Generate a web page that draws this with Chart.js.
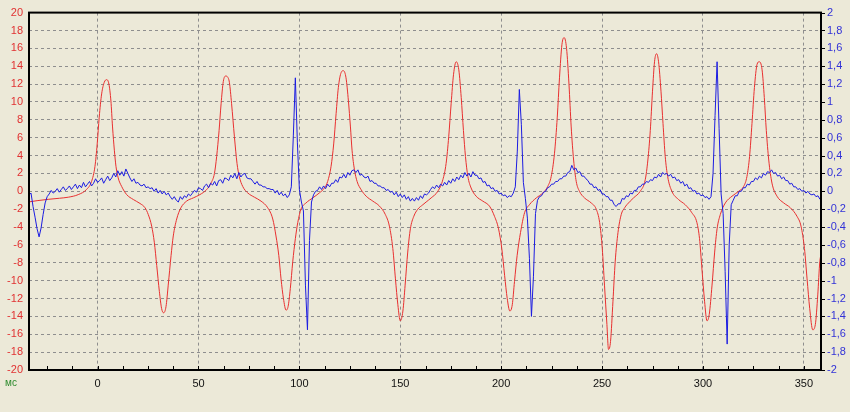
<!DOCTYPE html>
<html><head><meta charset="utf-8">
<script src="https://cdn.jsdelivr.net/npm/chart.js@4"></script>
<style>html,body{margin:0;padding:0;background:#ECE9D8;}canvas{display:block}</style>
</head><body>
<canvas id="c" width="850" height="412"></canvas>
<script>
const xUnit = 'мс';
const xMin = -34, xMax = 358.5;
const xTickStep = 12.5, xLabelStep = 50;
const leftMin = -20, leftMax = 20, leftStep = 2;
const rightMin = -2, rightMax = 2, rightStep = 0.2;

const redT = [-34.4,-30,-24.5,-19,-14.5,-9.6,-5.5,-3,-1.3,-0.2,0.8,2,3.3,4.5,5.6,6.6,7.4,8.3,9.1,10.2,11.9,14.4,17.7,21,23.5,25.1,26.8,28.1,29.3,30.6,31.7,32.7,33.9,35,36.4,37.5,39.2,41.3,44.1,47.4,50.7,54,56.2,57.9,59,60.2,61.2,62.3,63.5,64.4,65.3,66.4,67.8,69.1,70.2,71.9,74.4,77.7,81,84.3,86.8,88.4,89.8,90.9,92.1,93.4,94.4,95.5,96.7,98,99.2,100.8,103.3,106.6,109.9,112.4,114,115.7,117,118.2,119.3,120.7,121.8,123.1,124.3,125.3,126.1,127.3,128.6,130.6,133.1,136.4,139.7,142.6,144.6,146.3,147.6,148.8,150,151.3,152.4,153.7,155,156.7,158.7,161.2,162.8,165.3,168.6,171.1,172.7,174,175.2,176.4,177.7,179,180.2,181.3,182.3,183.5,185.1,187.6,190.9,194.2,196.7,198.7,200.3,201.7,203,204.3,205.5,206.6,207.9,209.6,211.6,214,217.4,220.7,223.1,224.8,226.4,227.8,228.9,230.1,231.2,232.4,233.6,234.7,235.9,237.2,238.8,241.3,244.6,247.1,248.8,250.1,251.2,252.4,253.2,254.2,255.4,256.5,257.9,259.5,261.2,262.3,265.6,268.9,271.4,272.7,273.9,275,276,277,278,279.2,280.2,281.3,282.5,284.6,287.9,291.2,294.5,297,298.3,299.5,300.8,302,303.1,304.5,305.8,307,308.6,311.1,314.4,317.7,320.2,321.8,323.1,324.3,325.5,326.8,327.9,329.3,330.4,331.4,332.6,334.2,336.7,340,343.3,346.6,348.6,350.3,351.6,352.9,354.4,355.7,356.9,357.9,358.6];
const redV = [-1.2,-1.05,-0.9,-0.78,-0.66,-0.37,0.2,1.1,2.8,5.3,8.3,10.9,12.2,12.5,12.0,10.1,7.2,4.6,2.8,1.5,0.55,-0.37,-0.92,-1.36,-1.84,-2.6,-3.9,-5.7,-8.3,-11.2,-13.1,-13.6,-12.9,-10.5,-7.2,-5.0,-3.1,-1.84,-1.1,-0.74,-0.37,0.18,0.92,2.0,3.9,6.8,9.8,12.3,12.9,12.8,12.2,9.8,6.1,3.1,1.66,0.55,-0.18,-0.66,-1.1,-1.84,-3.1,-5.0,-7.2,-9.8,-12.0,-13.3,-12.9,-10.9,-7.9,-5.3,-3.5,-2.0,-1.3,-0.74,-0.18,0.37,1.1,2.8,5.3,8.7,11.6,13.3,13.5,12.7,10.1,7.2,4.6,2.4,1.1,0.18,-0.55,-1.1,-1.66,-2.6,-3.9,-6.4,-9.8,-12.7,-14.5,-13.4,-10.5,-6.8,-4.2,-2.8,-2.0,-1.5,-1.2,-0.74,0,1.3,3.1,6.1,9.8,13.1,14.5,13.6,10.5,6.8,3.9,1.66,0.37,-0.55,-1.1,-1.66,-2.8,-4.2,-6.4,-9.4,-12.0,-13.4,-12.7,-10.1,-7.2,-4.6,-2.4,-1.5,-0.74,-0.18,0.55,1.66,4.2,8.3,12.7,16.4,17.2,16.0,12.0,7.2,3.5,1.1,0,-0.74,-1.3,-2.0,-3.5,-6.4,-10.5,-14.9,-17.7,-16.8,-12.3,-7.9,-4.6,-2.6,-1.84,-1.5,-0.74,0,1.3,3.5,6.8,11.2,14.5,15.4,14.5,11.2,7.6,3.9,1.66,0,-0.92,-1.5,-2.4,-3.5,-5.3,-8.7,-12.3,-14.5,-13.8,-10.5,-6.8,-4.2,-2.6,-1.3,-0.55,0,0.55,1.66,3.9,7.6,11.6,14.2,14.5,13.6,10.5,6.8,3.5,0.92,-0.55,-1.3,-1.84,-2.8,-3.9,-6.4,-9.8,-13.1,-15.5,-14.9,-11.6,-7.9,-7.0];

const blueStart = -34, blueStep = 1;
const blueV = [
-0.04,-0.02,-0.17,-0.29,-0.42,-0.51,-0.41,-0.26,-0.13,-0.06,
-0.03,0.01,-0.02,0.0,0.03,-0.01,0.02,0.05,0.01,0.03,
0.06,0.02,0.05,0.08,0.03,0.07,0.04,0.1,0.05,0.08,
0.11,0.06,0.09,0.14,0.1,0.12,0.15,0.09,0.13,0.17,
0.12,0.15,0.2,0.16,0.23,0.18,0.22,0.17,0.25,0.2,
0.15,0.11,0.14,0.09,0.1,0.07,0.06,0.08,0.04,0.05,
0.03,0.04,0.0,0.03,-0.02,0.01,-0.03,0.0,-0.04,-0.02,
-0.06,-0.09,-0.06,-0.1,-0.12,-0.06,-0.09,-0.05,-0.07,-0.03,
-0.05,-0.02,0.01,-0.01,0.04,0.03,0.01,0.06,0.08,0.04,
0.09,0.07,0.11,0.06,0.12,0.13,0.09,0.15,0.14,0.12,
0.18,0.15,0.2,0.14,0.21,0.16,0.19,0.2,0.15,0.14,
0.14,0.11,0.08,0.11,0.07,0.07,0.05,0.05,0.03,0.03,
0.02,0.02,-0.02,0.01,-0.04,-0.01,-0.05,-0.03,-0.07,-0.04,
0.05,0.62,1.27,0.55,0.02,-0.12,-0.22,-1.05,-1.55,-0.55,
-0.12,-0.04,0.0,0.01,0.05,0.02,0.06,0.03,0.08,0.05,
0.09,0.09,0.13,0.1,0.16,0.15,0.19,0.15,0.21,0.18,
0.23,0.24,0.21,0.24,0.18,0.19,0.16,0.15,0.17,0.11,
0.12,0.09,0.09,0.06,0.06,0.04,0.04,0.01,0.02,-0.01,
0.0,-0.04,-0.01,-0.06,-0.03,-0.07,-0.04,-0.09,-0.06,-0.11,
-0.08,-0.11,-0.07,-0.1,-0.05,-0.08,-0.03,-0.04,-0.02,0.02,
0.05,0.03,0.07,0.04,0.08,0.06,0.1,0.07,0.12,0.09,
0.14,0.11,0.16,0.13,0.18,0.15,0.21,0.17,0.2,0.16,
0.22,0.18,0.18,0.14,0.15,0.1,0.11,0.06,0.07,0.03,
0.04,0.0,0.01,-0.03,-0.02,-0.05,-0.04,-0.07,-0.05,-0.06,
-0.02,0.05,0.45,1.14,0.75,0.1,-0.08,-0.3,-0.75,-1.4,
-0.95,-0.25,-0.1,-0.06,-0.05,-0.01,0.0,0.04,0.05,0.08,
0.08,0.11,0.11,0.14,0.14,0.17,0.17,0.21,0.22,0.29,
0.24,0.26,0.21,0.22,0.17,0.17,0.14,0.12,0.08,0.08,
0.04,0.05,0.01,0.02,-0.03,-0.03,-0.06,-0.06,-0.1,-0.1,
-0.15,-0.17,-0.14,-0.14,-0.08,-0.09,-0.05,-0.06,-0.02,-0.03,
0.01,0.01,0.05,0.05,0.08,0.08,0.11,0.1,0.13,0.12,
0.16,0.15,0.19,0.16,0.21,0.19,0.2,0.17,0.19,0.15,
0.16,0.12,0.13,0.09,0.11,0.06,0.08,0.03,0.04,0.0,
0.01,-0.03,-0.02,-0.05,-0.04,-0.07,-0.06,-0.09,-0.06,0.2,
0.85,1.45,0.7,-0.03,-0.25,-0.9,-1.71,-0.6,-0.15,-0.1,
-0.05,-0.05,0.0,0.0,0.04,0.04,0.08,0.07,0.11,0.11,
0.15,0.13,0.17,0.15,0.2,0.18,0.22,0.21,0.24,0.2,
0.21,0.17,0.18,0.14,0.16,0.12,0.12,0.08,0.09,0.05,
0.05,0.02,0.03,0.0,0.01,-0.02,0.0,-0.03,-0.04,-0.03,
-0.06,-0.05,-0.09,-0.11];

const redData = redT.map((t, i) => ({x: t, y: redV[i]}));
const blueData = blueV.map((v, i) => ({x: blueStart + i * blueStep, y: v}));

const FONT = "'Liberation Sans', Arial, sans-serif";
const GRID = '#8e8e8e';

const framePlugin = {
  id: 'frame',
  afterDraw(chart) {
    const {ctx, chartArea: a, scales} = chart;
    ctx.save();
    ctx.strokeStyle = '#000';
    ctx.lineWidth = 1;
    scales.x.ticks.forEach(t => {
      const px = Math.round(scales.x.getPixelForValue(t.value)) + 0.5;
      ctx.beginPath(); ctx.moveTo(px, a.bottom); ctx.lineTo(px, a.bottom - 4); ctx.stroke();
    });
    scales.y2.ticks.forEach(t => {
      const py = Math.round(scales.y2.getPixelForValue(t.value)) + 0.5;
      ctx.beginPath(); ctx.moveTo(a.right, py); ctx.lineTo(a.right + 4, py); ctx.stroke();
    });
    ctx.lineWidth = 2;
    ctx.strokeRect(a.left, a.top, a.right - a.left, a.bottom - a.top);
    ctx.fillStyle = '#2e8b2e';
    ctx.font = '10px ' + FONT;
    ctx.textBaseline = 'middle';
    ctx.textAlign = 'left';
    ctx.fillText(xUnit, 5, 383);
    ctx.restore();
  }
};

new Chart(document.getElementById('c'), {
  type: 'line',
  data: {
    datasets: [
      {data: redData, yAxisID: 'y', borderColor: 'rgb(232,48,48)', borderWidth: 1, pointRadius: 0, cubicInterpolationMode: 'monotone', order: 1},
      {data: blueData, yAxisID: 'y2', borderColor: 'rgb(28,28,225)', borderWidth: 1, pointRadius: 0, tension: 0, order: 0}
    ]
  },
  options: {
    responsive: false,
    animation: false,
    events: [],
    layout: {padding: {left: 0, right: 0, top: 9, bottom: 0}},
    plugins: {legend: {display: false}, tooltip: {enabled: false}},
    scales: {
      x: {
        type: 'linear', min: xMin, max: xMax,
        afterFit: s => { s.height = 42; },
        ticks: {
          stepSize: xTickStep, includeBounds: false, autoSkip: false, maxRotation: 0,
          color: '#111', font: {family: FONT, size: 11}, padding: 7,
          callback: v => (Math.abs(v % xLabelStep) < 1e-6 ? String(v) : '')
        },
        grid: {
          drawTicks: false, lineWidth: 1,
          color: c => (c.tick && Math.abs(c.tick.value % xLabelStep) < 1e-6 ? GRID : 'rgba(0,0,0,0)')
        },
        border: {display: false, dash: [3, 3]}
      },
      y: {
        position: 'left', min: leftMin, max: leftMax,
        afterFit: s => { s.width = 29; },
        ticks: {stepSize: leftStep, color: 'rgb(225,50,50)', font: {family: FONT, size: 11}, padding: 6},
        grid: {drawTicks: false, color: GRID, lineWidth: 1},
        border: {display: false, dash: [3, 3]}
      },
      y2: {
        position: 'right', min: rightMin, max: rightMax,
        afterFit: s => { s.width = 29; },
        ticks: {
          stepSize: rightStep, color: 'rgb(50,50,215)', font: {family: FONT, size: 11}, padding: 6,
          callback: v => String(Math.round(v * 10) / 10).replace('.', ',')
        },
        grid: {drawOnChartArea: false, drawTicks: false},
        border: {display: false}
      }
    }
  },
  plugins: [framePlugin]
});
</script>
</body></html>
